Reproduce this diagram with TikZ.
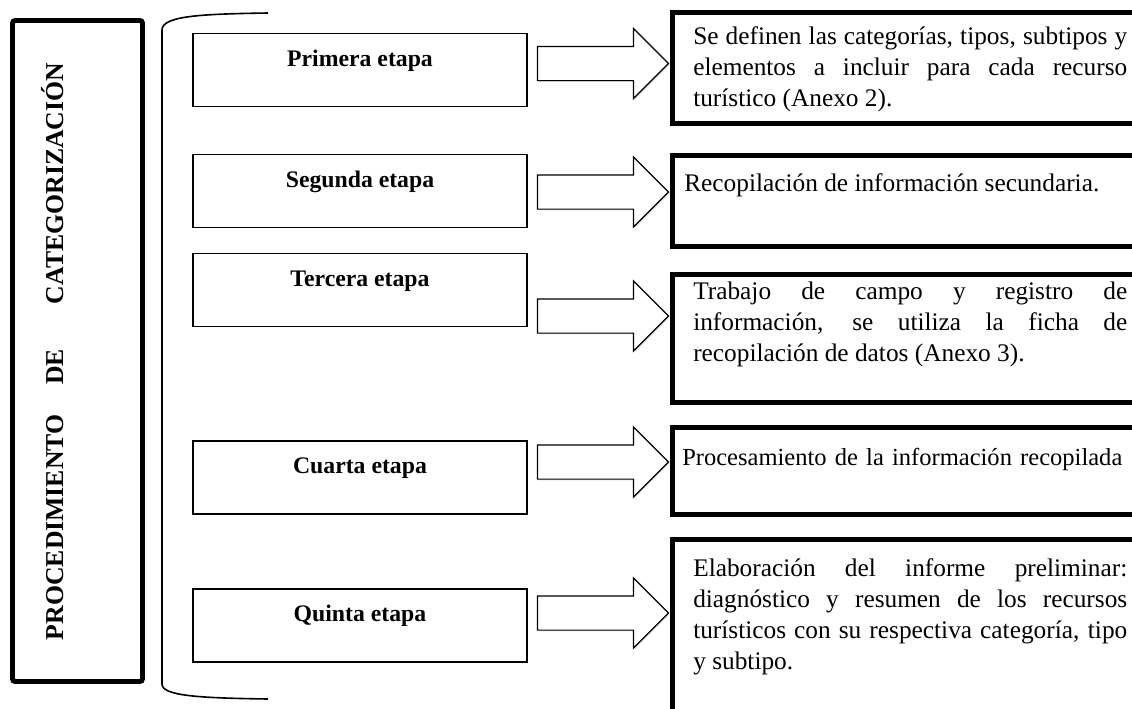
\documentclass[tikz,border=0pt]{standalone}
\usepackage{fontspec}
\setmainfont{Liberation Serif}
\usetikzlibrary{shapes.arrows,shadows}
\newdimen\pix \pix=0.75pt
\tikzset{
  titlebox/.style={draw, line width=3.7pt, rounded corners=2pt, minimum width=130\pix, minimum height=661\pix},
  titletext/.style={inner sep=0pt, font=\bfseries\fontsize{19.3}{22}\selectfont},
  stagebox/.style={draw, line width=1.1pt, minimum width=334\pix, minimum height=73\pix, inner sep=0pt,
    font=\bfseries\fontsize{17.8}{20}\selectfont, text height=12pt, text depth=18pt},
  bigarrow/.style={single arrow, draw, line width=0.9pt, fill=white, minimum height=131\pix, inner xsep=0pt,
    inner ysep=16.5\pix, single arrow head extend=18\pix,
    drop shadow={shadow xshift=1pt, shadow yshift=-1pt, opacity=0.25}},
  descbox/.style={draw, line width=3.4pt, minimum width=478\pix, anchor=north west, inner sep=0pt},
  desctext/.style={anchor=north west, inner sep=0pt, text width=434\pix, align=justify,
    font=\fontsize{19}{23.25}\selectfont},
}
\begin{document}
\begin{tikzpicture}[x=0.75pt, y=-0.75pt]
    \useasboundingbox (0,0) rectangle (1132,708);
    \node[titlebox] (title) at (77.5,351) {};
    \node[titletext, rotate=90, anchor=base] (titlelbl) at (63,351.5)
        {\makebox[432.75pt][s]{PROCEDIMIENTO\hspace{0pt plus 38fil}DE\hspace{0pt plus 57fil}CATEGORIZACIÓN}};
    \draw[line width=1.2pt] (268,13) .. controls (200,14) and (162,16) .. (162,30) -- (162,684)
        .. controls (162,696) and (200,698) .. (268,699);
    \foreach \i/\y/\txt in {1/70/Primera, 2/191/Segunda, 3/290/Tercera, 4/477.5/Cuarta, 5/625.5/Quinta}
        \node[stagebox] (s\i) at (360,\y) {\txt{} etapa};
    \foreach \i/\y in {1/63.5, 2/192, 3/316, 4/462, 5/613}
        \node[bigarrow] (a\i) at (594.5,\y) {};
    \foreach \i/\top/\h in {1/10/111, 2/153/91, 3/272/128, 4/425/87, 5/537/200}
        \node[descbox, minimum height=\h\pix] (d\i) at (670,\top) {};
    \node[desctext] (t1) at (693,26) {Se definen las categorías, tipos, subtipos y\linebreak
        elementos a incluir para cada recurso\linebreak turístico (Anexo 2).};
    \node[desctext] (t2) at (684,173) {Recopilación de información secundaria.};
    \node[desctext] (t3) at (693,282) {Trabajo de campo y registro de\linebreak
        información, se utiliza la ficha de\linebreak recopilación de datos (Anexo 3).};
    \node[desctext, text width=446\pix, align=left, font=\fontsize{18.4}{23.25}\selectfont] (t4) at (682,448)
        {Procesamiento de la información recopilada};
    \node[desctext] (t5) at (693,558) {Elaboración del informe preliminar:\linebreak
        diagnóstico y resumen de los recursos\linebreak turísticos con su respectiva categoría, tipo\linebreak
        y subtipo.};
\end{tikzpicture}
\end{document}
